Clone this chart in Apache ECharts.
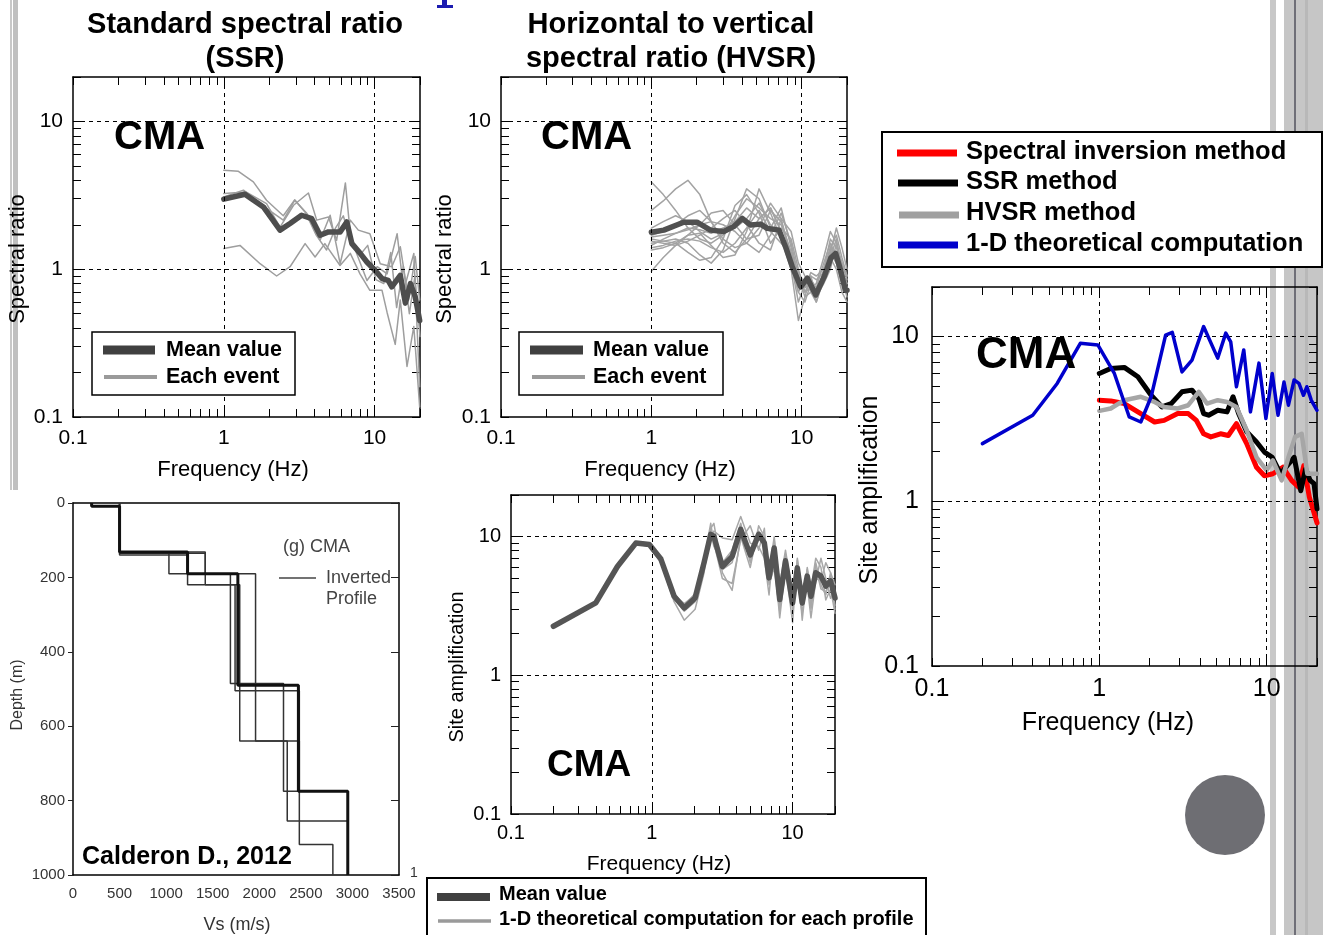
<!DOCTYPE html>
<html>
<head>
<meta charset="utf-8">
<script src="https://cdn.jsdelivr.net/npm/echarts@6/dist/echarts.min.js"></script>
<style>
html,body{margin:0;padding:0;background:#fff;}
#chart{width:1323px;height:935px;}
</style>
</head>
<body>
<div id="chart"></div>
<script>
// ---------------- DATA ----------------
const freqTickLabels = ['0.1', '1', '10'];
const ampTickLabels = ['0.1', '1', '10'];
const vsTickLabels = ['0', '500', '1000', '1500', '2000', '2500', '3000', '3500'];
const depthTickLabels = ['0', '200', '400', '600', '800', '1000'];

// Panel 1: SSR
const ssrMeanF = [1, 1.38, 1.83, 2.36, 2.75, 3.28, 3.83, 4.35, 4.94, 5.91, 6.54, 7.07, 8.03, 8.89, 10.1, 11.2, 12.3, 13.0, 14.8, 16.0, 17.3, 18.6, 19.9];
const ssrMeanV = [2.98, 3.22, 2.64, 1.84, 2.04, 2.32, 2.20, 1.70, 1.79, 1.79, 2.09, 1.49, 1.28, 1.12, 0.98, 0.865, 0.84, 0.76, 0.91, 0.59, 0.80, 0.65, 0.45];
const ssrEvtAF = [1, 1.25, 1.57, 1.92, 2.48, 2.95, 3.5, 4.1, 4.8, 5.5, 6.2, 7.0, 8.0, 9.0, 10.2, 11.5, 12.8, 14.0, 15.5, 17.0, 18.5, 20];
const ssrEvtAV = [4.68, 4.6, 3.9, 2.93, 2.3, 2.95, 2.4, 1.7, 1.35, 1.9, 2.3, 1.5, 1.25, 1.45, 0.85, 0.8, 1.3, 0.55, 1.05, 0.5, 0.9, 0.35];
const ssrEvtBF = [1, 1.28, 1.74, 2.24, 2.75, 3.46, 4.03, 4.68, 5.9, 6.9, 8.0, 9.3, 11.2, 12.1, 13.7, 14.8, 16.4, 18.2, 19.9];
const ssrEvtBV = [1.38, 1.45, 1.09, 0.90, 1.04, 1.49, 1.21, 1.49, 1.06, 1.28, 0.93, 0.72, 0.72, 0.51, 0.31, 0.62, 0.22, 0.41, 0.117];
const ssrEvtCF = [1, 1.41, 1.92, 2.36, 2.9, 3.64, 4.13, 4.94, 5.6, 6.4, 6.9, 7.6, 8.9, 10.4, 12.1, 14.1, 15.6, 18.2, 19.9];
const ssrEvtCV = [3.25, 3.33, 2.78, 1.93, 2.71, 3.28, 2.15, 2.26, 1.57, 3.84, 1.74, 1.28, 0.84, 1.04, 0.93, 1.74, 0.72, 1.28, 0.16];
const ssrEvtDF = [1, 1.35, 1.92, 2.48, 2.95, 3.56, 4.35, 5.07, 5.91, 6.9, 7.8, 9.3, 10.9, 13.0, 14.8, 16.8, 18.6, 19.9];
const ssrEvtDV = [3.09, 3.43, 2.58, 2.15, 2.93, 2.38, 1.57, 2.32, 1.09, 2.15, 1.84, 1.74, 1.09, 1.04, 1.42, 0.62, 1.22, 0.62];

// Panel 2: HVSR
const hvsrMeanF = [1, 1.21, 1.64, 2.01, 2.47, 3.03, 3.54, 4.02, 4.57, 5.32, 5.9, 7.06, 7.8, 8.65, 9.85, 10.9, 12.4, 14.1, 15.6, 16.8, 18.1, 19.5, 20];
const hvsrMeanV = [1.78, 1.84, 2.08, 2.08, 1.84, 1.80, 1.95, 2.21, 1.99, 2.02, 1.89, 1.84, 1.42, 1.04, 0.76, 0.87, 0.67, 0.89, 1.19, 1.28, 0.99, 0.72, 0.72];
const hvsrEvtF = [1, 1.2, 1.45, 1.75, 2.1, 2.5, 3.0, 3.6, 4.3, 5.2, 6.2, 7.3, 8.5, 9.5, 10.5, 11.5, 12.5, 14, 15.5, 17, 18.5, 20];
const hvsrEvt1 = [3.9, 3.2, 2.5, 1.9, 1.6, 1.5, 1.7, 2.3, 3.0, 2.6, 2.2, 2.0, 1.3, 0.9, 0.75, 0.8, 0.7, 0.9, 1.3, 1.1, 0.8, 0.75];
const hvsrEvt2 = [2.5, 2.9, 3.5, 4.0, 3.2, 2.1, 1.5, 1.3, 1.6, 2.2, 2.6, 1.8, 1.1, 0.8, 0.7, 0.85, 0.75, 1.1, 1.5, 1.2, 0.9, 0.8];
const hvsrEvt3 = [0.97, 1.2, 1.45, 1.7, 1.75, 1.45, 1.2, 1.25, 1.8, 3.5, 2.4, 1.6, 1.0, 0.45, 0.65, 0.7, 0.6, 0.9, 1.2, 1.0, 0.7, 0.6];
const hvsrEvt4 = [1.5, 1.55, 1.6, 1.5, 1.25, 1.1, 1.35, 2.2, 3.5, 3.0, 1.9, 2.6, 1.4, 0.85, 0.8, 0.9, 0.65, 1.0, 1.4, 1.7, 1.2, 0.9];
const hvsrEvt5 = [1.7, 1.8, 2.0, 2.3, 2.5, 2.1, 1.6, 1.4, 1.5, 1.9, 2.8, 2.2, 1.2, 0.7, 0.85, 0.75, 0.8, 1.2, 1.8, 1.5, 1.0, 0.8];
const hvsrEvt6 = [1.45, 1.6, 1.75, 1.85, 2.0, 2.1, 2.0, 1.8, 1.5, 1.3, 1.7, 2.4, 1.5, 0.9, 0.65, 0.9, 0.85, 0.95, 1.3, 1.9, 1.4, 1.0];
const hvsrEvt7 = [1.6, 1.55, 1.5, 1.3, 1.15, 1.2, 1.6, 2.7, 3.2, 2.4, 1.5, 1.9, 1.6, 1.0, 0.7, 0.75, 0.7, 0.85, 1.1, 1.3, 0.9, 0.7];
const hvsrEvt8 = [1.35, 1.4, 1.5, 1.7, 2.0, 2.4, 2.5, 2.0, 1.6, 1.7, 2.5, 2.1, 1.3, 0.8, 0.75, 0.95, 0.9, 1.0, 1.6, 1.4, 1.1, 0.85];
const hvsrEvt9 = [1.9, 2.1, 2.3, 2.1, 1.8, 1.6, 1.75, 1.9, 2.2, 2.8, 2.0, 1.7, 1.1, 0.6, 0.8, 0.85, 0.7, 0.95, 1.2, 1.6, 1.0, 0.75];
const hvsrEvt10 = [1.55, 1.5, 1.45, 1.55, 1.7, 1.9, 2.2, 2.5, 2.0, 1.5, 1.35, 2.2, 1.8, 1.1, 0.9, 0.7, 0.75, 0.9, 1.4, 1.2, 0.85, 0.65];
const hvsrEvt11 = [1.4, 1.45, 1.55, 1.6, 1.55, 1.4, 1.3, 1.5, 1.9, 2.5, 1.8, 1.5, 1.25, 0.95, 0.8, 0.75, 0.65, 0.8, 1.0, 1.5, 1.1, 0.9];
const hvsrEvt12 = [1.65, 1.7, 1.75, 1.9, 1.85, 1.75, 1.9, 2.1, 2.6, 2.2, 2.6, 1.8, 1.05, 0.7, 0.6, 0.8, 0.6, 0.85, 1.35, 1.1, 0.8, 0.7];

// Panel 3: comparison
const invF = [1, 1.17, 1.41, 1.70, 2.14, 2.44, 2.94, 3.4, 3.8, 4.2, 4.64, 5.3, 5.9, 6.6, 7.6, 8.7, 9.7, 10.9, 12.5, 14.1, 15.5, 16.7, 18, 20];
const invV = [4.11, 4.07, 3.92, 3.49, 3.03, 3.10, 3.41, 3.41, 3.10, 2.57, 2.46, 2.57, 2.51, 2.96, 2.24, 1.61, 1.43, 1.47, 1.61, 1.34, 1.22, 1.65, 1.06, 0.74];
const ssrCmpF = [1, 1.17, 1.41, 1.70, 2.04, 2.37, 2.69, 3.12, 3.58, 3.93, 4.2, 4.5, 5.1, 5.8, 6.3, 6.8, 7.6, 8.7, 9.7, 10.8, 12.1, 13.3, 14.6, 16.0, 17.1, 18.2, 19.2, 20];
const ssrCmpV = [5.97, 6.4, 6.5, 5.7, 4.4, 3.74, 3.92, 4.62, 4.73, 4.21, 3.41, 3.33, 3.57, 3.49, 4.31, 3.41, 2.64, 2.29, 1.99, 1.85, 1.47, 1.65, 1.85, 1.16, 1.57, 1.34, 1.28, 0.90];
const hvsrCmpF = [1, 1.17, 1.41, 1.77, 2.14, 2.44, 2.94, 3.4, 3.93, 4.4, 5.1, 5.8, 6.6, 7.6, 8.7, 10.0, 10.9, 12.3, 13.5, 14.8, 16.2, 17.5, 20];
const hvsrCmpV = [3.54, 3.66, 4.11, 4.31, 4.01, 3.74, 3.66, 3.83, 4.62, 3.92, 4.11, 4.01, 3.74, 2.70, 1.85, 1.54, 1.77, 1.34, 1.85, 2.46, 2.57, 1.47, 1.47];
const theoF = [0.2, 0.4, 0.56, 0.77, 0.98, 1.23, 1.51, 1.77, 2.04, 2.49, 2.73, 3.12, 3.58, 4.2, 5.1, 5.7, 6.1, 6.6, 7.3, 8.0, 9.0, 9.9, 10.8, 11.7, 12.7, 13.5, 14.6, 15.6, 16.6, 17.4, 18.5, 20];
const theoV = [2.24, 3.33, 5.19, 9.1, 8.9, 5.97, 3.25, 3.03, 4.31, 10.2, 10.6, 6.1, 7.2, 11.5, 7.4, 10.5, 9.3, 4.96, 8.3, 3.49, 6.9, 3.18, 5.97, 3.33, 5.3, 3.83, 5.45, 5.2, 4.4, 4.96, 4.1, 3.57];

// Panel 4: 1-D theoretical
const theo1dF = [0.2, 0.4, 0.57, 0.77, 0.96, 1.16, 1.44, 1.7, 2.03, 2.35, 2.62, 2.76, 3.17, 3.72, 4.28, 5.0, 5.74, 6.3, 6.8, 7.4, 8.1, 8.9, 10, 10.8, 11.7, 12.7, 13.5, 14.6, 15.9, 17.2, 18.6, 20];
const theo1dMean = [2.26, 3.33, 6.1, 9.0, 8.8, 6.9, 3.72, 3.06, 3.62, 6.5, 10.4, 10.1, 6.1, 7.2, 11.3, 7.4, 10.4, 9.0, 5.05, 8.3, 3.52, 6.7, 3.33, 5.96, 3.33, 5.2, 3.72, 5.5, 5.2, 4.4, 4.8, 3.62];
const theo1dP1 = [2.26, 3.33, 6.1, 9.0, 8.6, 6.7, 3.6, 2.9, 3.4, 6.8, 12.5, 9.0, 5.0, 4.6, 9.5, 12.0, 8.0, 11.5, 4.5, 6.0, 2.9, 7.5, 3.0, 6.8, 2.5, 5.5, 3.2, 6.5, 4.5, 3.8, 5.5, 3.0];
const theo1dP2 = [2.26, 3.33, 6.1, 9.1, 9.0, 7.1, 3.9, 3.2, 3.9, 6.2, 9.5, 11.0, 9.8, 9.5, 14.0, 9.0, 8.5, 7.0, 3.8, 9.5, 3.0, 5.5, 4.0, 5.0, 2.8, 6.0, 4.2, 7.0, 6.0, 3.5, 4.2, 2.8];
const theo1dP3 = [2.26, 3.33, 6.1, 8.9, 8.5, 6.5, 3.4, 2.5, 3.0, 5.5, 11.5, 12.5, 5.5, 4.1, 10.0, 6.0, 12.0, 10.0, 6.0, 7.0, 2.6, 6.0, 2.4, 7.0, 4.0, 4.5, 2.6, 4.8, 7.0, 5.0, 3.6, 4.0];
const theo1dP4 = [2.26, 3.33, 6.1, 9.0, 8.8, 7.0, 3.8, 3.3, 3.8, 7.0, 11.0, 8.5, 6.5, 8.0, 12.5, 6.5, 11.0, 8.5, 5.5, 10.0, 4.5, 8.0, 3.8, 6.0, 3.6, 5.8, 3.0, 5.0, 4.8, 6.5, 5.5, 4.5];
const theo1dP5 = [2.26, 3.33, 6.1, 9.0, 8.7, 6.8, 3.6, 3.0, 3.5, 6.0, 10.0, 9.5, 5.8, 6.5, 11.5, 7.0, 10.0, 9.5, 4.8, 8.8, 3.6, 7.0, 3.1, 5.5, 3.2, 4.8, 3.4, 6.0, 4.2, 4.0, 5.0, 3.2];

// Panel 5: Vs profiles (corner points of the step profiles)
const prof1Vs = [200, 200, 500, 500, 1230, 1230, 1770, 1770, 2420, 2420, 2950, 2950];
const prof1Z  = [0, 9, 9, 132, 132, 190, 190, 490, 490, 775, 775, 1000];
const prof2Vs = [500, 500, 1030, 1030, 1960, 1960, 2300, 2300, 2950, 2950];
const prof2Z  = [0, 135, 135, 190, 190, 640, 640, 855, 855, 1000];
const prof3Vs = [500, 500, 1230, 1230, 1740, 1740, 2430, 2430, 2790, 2790];
const prof3Z  = [0, 140, 140, 220, 220, 505, 505, 918, 918, 1000];
const prof4Vs = [500, 500, 1420, 1420, 1690, 1690, 2260, 2260, 2950, 2950];
const prof4Z  = [0, 135, 135, 190, 190, 485, 485, 775, 775, 1000];
const prof5Vs = [500, 500, 1420, 1420, 1790, 1790, 2430, 2430, 2950, 2950];
const prof5Z  = [0, 132, 132, 220, 220, 640, 640, 775, 775, 1000];

// ---------------- HELPERS ----------------
const FONT = '"Liberation Sans", Arial, Helvetica, sans-serif';
const LOGMAX = Math.log10(20);
const lg = v => Math.log10(v);
const pts = (f, v) => f.map((x, i) => [lg(x), lg(v[i])]);
const zip = (a, b) => a.map((x, i) => [x, b[i]]);

const logTicks = [];
[0.1, 1, 10].forEach(d => { for (let m = 1; m <= 9; m++) { const v = d * m; if (v <= 20.0001) logTicks.push(lg(v)); } });
const fmtF = v => freqTickLabels[Math.round(v) + 1];
const fmtA = v => ampTickLabels[Math.round(v) + 1];

const BLACK_LINE = { show: true, onZero: false, lineStyle: { color: '#000', width: 1.5 } };
const TICK_IN = { show: true, inside: true, length: 8, customValues: logTicks, lineStyle: { color: '#000', width: 1 } };

function logAxesX(gi, fs, margin) {
  return [
    { type: 'value', gridIndex: gi, min: -1, max: LOGMAX, position: 'bottom', axisLine: BLACK_LINE, axisTick: TICK_IN,
      axisLabel: { show: true, customValues: [-1, 0, 1], formatter: fmtF, fontSize: fs, fontFamily: FONT, color: '#000', margin: margin },
      splitLine: { show: false } },
    { type: 'value', gridIndex: gi, min: -1, max: LOGMAX, position: 'top', axisLine: BLACK_LINE, axisTick: TICK_IN,
      axisLabel: { show: false }, splitLine: { show: false } }
  ];
}
function logAxesY(gi, fs, margin) {
  return [
    { type: 'value', gridIndex: gi, min: -1, max: LOGMAX, position: 'left', axisLine: BLACK_LINE, axisTick: TICK_IN,
      axisLabel: { show: true, customValues: [-1, 0, 1], formatter: fmtA, fontSize: fs, fontFamily: FONT, color: '#000', margin: margin },
      splitLine: { show: false } },
    { type: 'value', gridIndex: gi, min: -1, max: LOGMAX, position: 'right', axisLine: BLACK_LINE, axisTick: TICK_IN,
      axisLabel: { show: false }, splitLine: { show: false } }
  ];
}

const grids = [
  { left: 73, top: 77, width: 347, height: 340 },
  { left: 501, top: 77, width: 346, height: 340 },
  { left: 932, top: 287, width: 385, height: 379 },
  { left: 511, top: 495, width: 324, height: 319 },
  { left: 73, top: 503, width: 326, height: 372 }
];

const xAxes = [].concat(
  logAxesX(0, 21, 11), logAxesX(1, 21, 11), logAxesX(2, 25, 11), logAxesX(3, 20, 9),
  [{ type: 'value', gridIndex: 4, min: 0, max: 3500, interval: 500, position: 'bottom', axisLine: BLACK_LINE,
     axisTick: { show: false }, axisLabel: { fontSize: 15, fontFamily: FONT, color: '#333', margin: 11,
       formatter: v => vsTickLabels[Math.round(v / 500)] }, splitLine: { show: false } },
   { type: 'value', gridIndex: 4, min: 0, max: 3500, interval: 500, position: 'top', axisLine: BLACK_LINE,
     axisTick: { show: false }, axisLabel: { show: false }, splitLine: { show: false } }]
);
const yAxes = [].concat(
  logAxesY(0, 21, 10), logAxesY(1, 21, 10), logAxesY(2, 25, 13), logAxesY(3, 20, 10),
  [{ type: 'value', gridIndex: 4, min: 0, max: 1000, interval: 200, inverse: true, position: 'left', axisLine: BLACK_LINE,
     axisTick: { show: true, inside: false, length: 5, lineStyle: { color: '#222' } },
     axisLabel: { fontSize: 15, fontFamily: FONT, color: '#333', margin: 8,
       formatter: v => depthTickLabels[Math.round(v / 200)] }, splitLine: { show: false } },
   { type: 'value', gridIndex: 4, min: 0, max: 1000, interval: 200, inverse: true, position: 'right', axisLine: BLACK_LINE,
     axisTick: { show: true, inside: true, length: 8, lineStyle: { color: '#222' } }, axisLabel: { show: false }, splitLine: { show: false } }]
);

const series = [];
function gridLines(gi) {
  series.push({ type: 'line', xAxisIndex: gi * 2, yAxisIndex: gi * 2, data: [], z: 1, silent: true,
    markLine: { silent: true, symbol: ['none', 'none'], label: { show: false }, animation: false,
      lineStyle: { color: '#000', width: 1, type: [4, 4] },
      data: [{ xAxis: 0 }, { xAxis: 1 }, { yAxis: 0 }, { yAxis: 1 }] } });
}
function line(gi, data, color, width, z) {
  series.push({ type: 'line', xAxisIndex: gi * 2, yAxisIndex: gi * 2, data: data, showSymbol: false, symbol: 'none',
    lineStyle: { color: color, width: width, join: 'round', cap: 'round' }, z: z || 2, silent: true });
}

// Panel 1
gridLines(0);
[[ssrEvtAF, ssrEvtAV], [ssrEvtBF, ssrEvtBV], [ssrEvtCF, ssrEvtCV], [ssrEvtDF, ssrEvtDV]]
  .forEach(c => line(0, pts(c[0], c[1]), '#9e9e9e', 1.5, 2));
line(0, pts(ssrMeanF, ssrMeanV), '#4d4d4d', 5.5, 3);

// Panel 2
gridLines(1);
[hvsrEvt1, hvsrEvt2, hvsrEvt3, hvsrEvt4, hvsrEvt5, hvsrEvt6, hvsrEvt7, hvsrEvt8, hvsrEvt9, hvsrEvt10, hvsrEvt11, hvsrEvt12]
  .forEach(v => line(1, pts(hvsrEvtF, v), '#a3a3a3', 1.5, 2));
line(1, pts(hvsrMeanF, hvsrMeanV), '#505050', 5.5, 3);

// Panel 3
gridLines(2);
line(2, pts(invF, invV), '#ff0000', 5, 2);
line(2, pts(ssrCmpF, ssrCmpV), '#000000', 5, 3);
line(2, pts(hvsrCmpF, hvsrCmpV), '#a6a6a6', 4.5, 4);
line(2, pts(theoF, theoV), '#0000cc', 3.5, 5);

// Panel 4
gridLines(3);
[theo1dP1, theo1dP2, theo1dP3, theo1dP4, theo1dP5].forEach(v => line(3, pts(theo1dF, v), '#a8a8a8', 1.5, 2));
line(3, pts(theo1dF, theo1dMean), '#555555', 5.5, 3);

// Panel 5
[[prof2Vs, prof2Z], [prof3Vs, prof3Z], [prof4Vs, prof4Z], [prof5Vs, prof5Z]].forEach(p =>
  series.push({ type: 'line', xAxisIndex: 8, yAxisIndex: 8, data: zip(p[0], p[1]), showSymbol: false, symbol: 'none',
    lineStyle: { color: '#333', width: 1.5 }, silent: true }));
series.push({ type: 'line', xAxisIndex: 8, yAxisIndex: 8, data: zip(prof1Vs, prof1Z), showSymbol: false, symbol: 'none',
  lineStyle: { color: '#111', width: 3 }, silent: true });

// ---------------- GRAPHICS (text, legends, decoration) ----------------
function txt(text, x, y, size, opts) {
  opts = opts || {};
  return { type: 'text', x: x, y: y, rotation: opts.rot || 0, z: 100, silent: true,
    style: { text: text, x: 0, y: 0, fontSize: size, fontFamily: FONT, fontWeight: opts.bold ? 'bold' : 'normal',
      fill: opts.color || '#000', align: opts.align || 'left', verticalAlign: 'middle' } };
}
function rect(x, y, w, h, fill, stroke, lw, z) {
  return { type: 'rect', z: z === undefined ? 100 : z, silent: true, shape: { x: x, y: y, width: w, height: h },
    style: { fill: fill, stroke: stroke || null, lineWidth: lw || 0 } };
}
function seg(x1, y1, x2, y2, color, w, z) {
  return { type: 'line', z: z === undefined ? 101 : z, silent: true, shape: { x1: x1, y1: y1, x2: x2, y2: y2 },
    style: { stroke: color, lineWidth: w } };
}

const graphics = [
  // decoration stripes
  rect(10, 0, 2, 490, '#c8c8c8', null, 0, 0),
  rect(13, 0, 5, 490, '#c0c0c0', null, 0, 0),
  rect(1270, 0, 6, 935, '#c8c8c8', null, 0, 0),
  rect(1284, 0, 39, 935, '#c6c6c6', null, 0, 0),
  rect(1305, 0, 3, 935, '#b8b8b8', null, 0, 0),
  rect(1294, 0, 2, 935, '#6f6f78', null, 0, 0),
  // fragment of slide title letter
  rect(442, 0, 5, 6, '#1c1cb0', null, 0, 100),
  rect(437, 5, 16, 3, '#1c1cb0', null, 0, 100),
  // gray circle
  { type: 'circle', z: 100, silent: true, shape: { cx: 1225, cy: 815, r: 40 }, style: { fill: '#6e6e73' } },

  // titles
  txt('Standard spectral ratio', 245, 25, 29, { bold: true, align: 'center' }),
  txt('(SSR)', 245, 59, 29, { bold: true, align: 'center' }),
  txt('Horizontal to vertical', 671, 25, 29, { bold: true, align: 'center' }),
  txt('spectral ratio (HVSR)', 671, 59, 29, { bold: true, align: 'center' }),

  // CMA labels
  txt('CMA', 114, 138, 40, { bold: true }),
  txt('CMA', 541, 138, 40, { bold: true }),
  txt('CMA', 976, 356, 44, { bold: true }),
  txt('CMA', 547, 766, 37, { bold: true }),

  // axis names
  txt('Spectral ratio', 18, 259, 22, { align: 'center', rot: Math.PI / 2 }),
  txt('Frequency (Hz)', 233, 470, 22, { align: 'center' }),
  txt('Spectral ratio', 445, 259, 22, { align: 'center', rot: Math.PI / 2 }),
  txt('Frequency (Hz)', 660, 470, 22, { align: 'center' }),
  txt('Site amplification', 870, 490, 25, { align: 'center', rot: Math.PI / 2 }),
  txt('Frequency (Hz)', 1108, 723, 25, { align: 'center' }),
  txt('Site amplification', 457, 667, 20, { align: 'center', rot: Math.PI / 2 }),
  txt('Frequency (Hz)', 659, 864, 21, { align: 'center' }),
  txt('Depth (m)', 18, 695, 16, { align: 'center', rot: Math.PI / 2, color: '#333' }),
  txt('Vs (m/s)', 237, 925, 18, { align: 'center', color: '#333' }),
  txt('1', 414, 873, 14, { align: 'center', color: '#333' }),

  // panel 1 legend
  rect(92, 332, 203, 63, '#fff', '#000', 1.5, 99),
  seg(103, 350, 155, 350, '#404040', 9),
  seg(104, 377, 157, 377, '#9a9a9a', 4),
  txt('Mean value', 166, 350, 21.5, { bold: true }),
  txt('Each event', 166, 377, 21.5, { bold: true }),
  // panel 2 legend
  rect(519, 332, 204, 63, '#fff', '#000', 1.5, 99),
  seg(530, 350, 583, 350, '#404040', 9),
  seg(532, 377, 585, 377, '#9a9a9a', 4),
  txt('Mean value', 593, 350, 21.5, { bold: true }),
  txt('Each event', 593, 377, 21.5, { bold: true }),
  // panel 3 legend
  rect(882, 132, 440, 135, '#fff', '#000', 2, 99),
  seg(897, 153, 957, 153, '#ff0000', 7),
  seg(898, 183, 958, 183, '#000000', 7),
  seg(899, 215, 959, 215, '#a0a0a0', 7),
  seg(898, 245, 958, 245, '#0000cc', 7),
  txt('Spectral inversion method', 966, 152, 25.5, { bold: true }),
  txt('SSR method', 966, 182, 25.5, { bold: true }),
  txt('HVSR method', 966, 213, 25.5, { bold: true }),
  txt('1-D theoretical computation', 966, 244, 25.5, { bold: true }),
  // panel 4 legend
  rect(427, 878, 499, 70, '#fff', '#000', 2, 99),
  seg(437, 897, 490, 897, '#404040', 8),
  seg(438, 921, 491, 921, '#9a9a9a', 3.5),
  txt('Mean value', 499, 894, 20, { bold: true }),
  txt('1-D theoretical computation for each profile', 499, 919, 20, { bold: true }),
  // panel 5 annotations
  txt('(g) CMA', 283, 547, 18, { color: '#444' }),
  seg(279, 578, 316, 578, '#444', 1.5),
  txt('Inverted', 326, 578, 18, { color: '#444' }),
  txt('Profile', 326, 599, 18, { color: '#444' }),
  txt('Calderon D., 2012', 82, 857, 25, { bold: true })
];

const chart = echarts.init(document.getElementById('chart'), null, { renderer: 'canvas' });
chart.setOption({
  animation: false,
  backgroundColor: '#ffffff',
  grid: grids,
  xAxis: xAxes,
  yAxis: yAxes,
  series: series,
  graphic: { elements: graphics }
});
</script>
</body>
</html>
